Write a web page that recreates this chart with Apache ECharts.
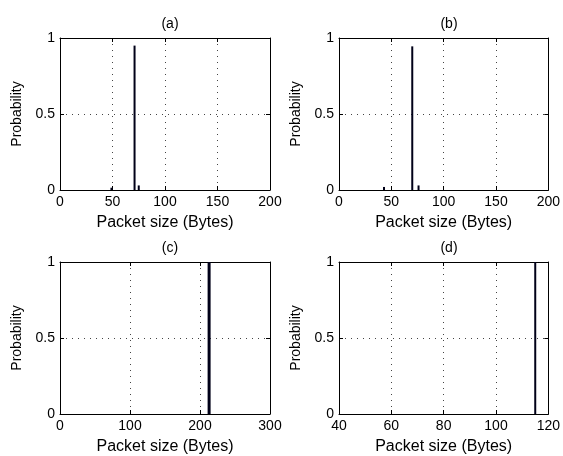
<!DOCTYPE html>
<html>
<head>
<meta charset="utf-8">
<script src="https://cdn.jsdelivr.net/npm/echarts@6/dist/echarts.min.js"></script>
<style>
  html, body { margin: 0; padding: 0; background: #fff; }
  #chart { width: 563px; height: 456px; }
</style>
</head>
<body>
<div id="chart"></div>
<script>
// packet size (bytes) -> probability, per panel
var sizesA = [49, 71, 75]
var probA = [0.015, 0.95, 0.03]
var sizesB = [43, 70, 76]
var probB = [0.02, 0.945, 0.03]
var sizesC = [213]
var probC = [1]
var sizesD = [115]
var probD = [1]

var panelTitles = ['(a)', '(b)', '(c)', '(d)']
var xRanges = [[0, 200, 50], [0, 200, 50], [0, 300, 100], [40, 120, 20]]

var font = 'Liberation Sans, Arial, sans-serif'
var grids = [
  {left: 60, top: 38, width: 210, height: 152},
  {left: 339, top: 38, width: 210, height: 152},
  {left: 60, top: 262, width: 210, height: 154},
  {left: 339, top: 262, width: 210, height: 154}
]

function pairs(xs, ys) {
  return xs.map(function (x, i) { return [x, ys[i]] })
}
var seriesData = [pairs(sizesA, probA), pairs(sizesB, probB), pairs(sizesC, probC), pairs(sizesD, probD)]
var barWidths = [2, 2, 3, 2]

var chart = echarts.init(document.getElementById('chart'))
var dotted = {show: true, lineStyle: {color: '#444', type: [1, 5], width: 1}}
var blackLine = {show: true, onZero: false, lineStyle: {color: '#000', width: 1}}
var tick = {show: true, inside: true, length: 4, lineStyle: {color: '#000'}}

var xAxes = []
var yAxes = []
xRanges.forEach(function (r, i) {
  xAxes.push({
    type: 'value', gridIndex: i, min: r[0], max: r[1], interval: r[2],
    name: 'Packet size (Bytes)', nameLocation: 'middle', nameGap: 25,
    nameTextStyle: {fontFamily: font, fontSize: 16, color: '#000'},
    axisLine: blackLine, axisTick: tick,
    axisLabel: {fontFamily: font, fontSize: 14, color: '#000', margin: 5},
    splitLine: dotted
  })
  yAxes.push({
    type: 'value', gridIndex: i, min: 0, max: 1, interval: 0.5,
    name: 'Probability', nameLocation: 'middle', nameGap: 36,
    nameTextStyle: {fontFamily: font, fontSize: 14, color: '#000'},
    axisLine: blackLine, axisTick: tick,
    axisLabel: {fontFamily: font, fontSize: 14, color: '#000', margin: 5},
    splitLine: dotted
  })
})
// box ticks on the top and right edges
xRanges.forEach(function (r, i) {
  xAxes.push({
    type: 'value', gridIndex: i, position: 'top', min: r[0], max: r[1], interval: r[2],
    axisLine: blackLine, axisTick: tick, axisLabel: {show: false}, splitLine: {show: false}
  })
  yAxes.push({
    type: 'value', gridIndex: i, position: 'right', min: 0, max: 1, interval: 0.5,
    axisLine: blackLine, axisTick: tick, axisLabel: {show: false}, splitLine: {show: false}
  })
})

chart.setOption({
  animation: false,
  title: panelTitles.map(function (t, i) {
    return {
      text: t, left: grids[i].left + grids[i].width / 2, top: grids[i].top - 26,
      textAlign: 'center',
      textStyle: {fontFamily: font, fontSize: 14, fontWeight: 'normal', color: '#000'}
    }
  }),
  grid: grids,
  xAxis: xAxes,
  yAxis: yAxes,
  series: seriesData.map(function (d, i) {
    return {
      type: 'bar', xAxisIndex: i, yAxisIndex: i, data: d,
      barWidth: barWidths[i],
      itemStyle: {color: '#000018'}
    }
  })
})
</script>
</body>
</html>
